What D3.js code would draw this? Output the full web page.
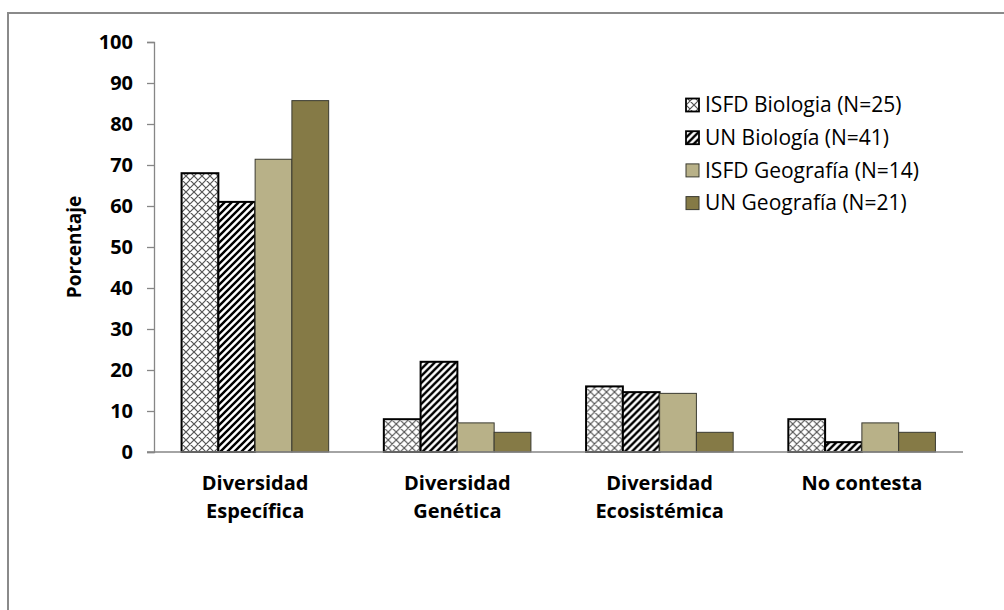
<!DOCTYPE html>
<html>
<head>
<meta charset="utf-8">
<script src="https://cdn.jsdelivr.net/npm/d3@7"></script>
<style>
  html, body { margin: 0; padding: 0; background: #fff; }
  svg { display: block; }
  text { font-family: "Open Sans", "Noto Sans", sans-serif; fill: #000; }
</style>
</head>
<body>
<script>
// ---- data ----
const categories = ["Diversidad Específica", "Diversidad Genética", "Diversidad Ecosistémica", "No contesta"];
const categoryLines = [["Diversidad", "Específica"], ["Diversidad", "Genética"], ["Diversidad", "Ecosistémica"], ["No contesta"]];
const seriesNames = ["ISFD Biologia (N=25)", "UN Biología (N=41)", "ISFD Geografía (N=14)", "UN Geografía (N=21)"];
const isfdBiologia = [68, 8, 16, 8];
const unBiologia = [61, 22, 14.6, 2.4];
const isfdGeografia = [71.4, 7.1, 14.3, 7.1];
const unGeografia = [85.7, 4.8, 4.8, 4.8];
const yTicks = [0, 10, 20, 30, 40, 50, 60, 70, 80, 90, 100];
const yTitle = "Porcentaje";

const seriesValues = [isfdBiologia, unBiologia, isfdGeografia, unGeografia];

// ---- layout ----
const W = 1004, H = 610;
const plot = { left: 154, right: 963, top: 42, bottom: 452 };

const svg = d3.select("body").append("svg").attr("width", W).attr("height", H);
const defs = svg.append("defs");

// patterns
const cross = defs.append("pattern").attr("id", "cross")
  .attr("patternUnits", "userSpaceOnUse").attr("width", 8).attr("height", 8);
cross.append("rect").attr("width", 8).attr("height", 8).attr("fill", "#fff");
cross.append("path").attr("d", "M0,0 L8,8 M8,0 L0,8 M-1,7 L1,9 M7,-1 L9,1 M-1,1 L1,-1 M7,9 L9,7")
  .attr("stroke", "#555").attr("stroke-width", 1.2);

const hatch = defs.append("pattern").attr("id", "hatch")
  .attr("patternUnits", "userSpaceOnUse").attr("width", 7).attr("height", 7);
hatch.append("rect").attr("width", 7).attr("height", 7).attr("fill", "#fff");
hatch.append("path").attr("d", "M-2,9 L9,-2 M-2,2 L2,-2 M5,9 L9,5")
  .attr("stroke", "#000").attr("stroke-width", 2.4);

const fills = ["url(#cross)", "url(#hatch)", "#b8b188", "#857a46"];
const strokes = ["#000", "#000", "#3a3a30", "#3a3a30"];
const strokeW = [2, 2, 1, 1];

// outer border
svg.append("rect").attr("x", 8).attr("y", 13).attr("width", 1100).attr("height", 700)
  .attr("fill", "none").attr("stroke", "#8a8a8a").attr("stroke-width", 2);

// scales
const x0 = d3.scaleBand().domain(categories).range([plot.left, plot.right]).padding(0);
const x1 = d3.scaleBand().domain(d3.range(seriesNames.length)).range([0, x0.bandwidth()])
  .paddingInner(0).paddingOuter(0.75);
const y = d3.scaleLinear().domain([0, 100]).range([plot.bottom, plot.top]);

// y axis
const yAxis = d3.axisLeft(y).tickValues(yTicks).tickSize(7).tickPadding(14).tickFormat(d3.format("d"));
const gy = svg.append("g").attr("transform", `translate(${plot.left},0)`).call(yAxis);
gy.select(".domain").attr("stroke", "#868686").attr("stroke-width", 1.3);
gy.selectAll(".tick line").attr("stroke", "#868686").attr("stroke-width", 1.3);
gy.selectAll(".tick text").attr("font-size", 20).attr("font-weight", "bold")
  .attr("font-family", "'Open Sans', sans-serif").attr("fill", "#000");

// bars
const groups = svg.append("g").selectAll("g").data(categories).join("g")
  .attr("transform", d => `translate(${x0(d)},0)`);
groups.selectAll("rect").data((c, ci) => seriesValues.map((vals, si) => ({ si, v: vals[ci] })))
  .join("rect")
  .attr("x", d => x1(d.si))
  .attr("y", d => y(d.v))
  .attr("width", x1.bandwidth())
  .attr("height", d => y(0) - y(d.v))
  .attr("fill", d => fills[d.si])
  .attr("stroke", d => strokes[d.si])
  .attr("stroke-width", d => strokeW[d.si]);

// x axis line
svg.append("line").attr("x1", plot.left - 7).attr("x2", plot.right)
  .attr("y1", y(0)).attr("y2", y(0)).attr("stroke", "#868686").attr("stroke-width", 1.3);

// x labels
const xl = svg.append("g").selectAll("text").data(categories).join("text")
  .attr("x", d => x0(d) + x0.bandwidth() / 2)
  .attr("y", 490)
  .attr("text-anchor", "middle")
  .attr("font-size", 20).attr("font-weight", "bold");
xl.selectAll("tspan").data((d, i) => categoryLines[i]).join("tspan")
  .attr("x", function () { return d3.select(this.parentNode).attr("x"); })
  .attr("dy", (d, i) => i === 0 ? 0 : 28)
  .text(d => d);

// y title
svg.append("text").attr("transform", "translate(81,247) rotate(-90)")
  .attr("text-anchor", "middle").attr("font-size", 19).attr("font-weight", "bold")
  .text(yTitle);

// legend
const lg = svg.append("g").selectAll("g").data(seriesNames).join("g")
  .attr("transform", (d, i) => `translate(686,${105 + i * 32.7})`);
lg.append("rect").attr("x", 0).attr("y", -6.5).attr("width", 13).attr("height", 13)
  .attr("fill", (d, i) => fills[i]).attr("stroke", (d, i) => strokes[i])
  .attr("stroke-width", (d, i) => i < 2 ? 1.8 : 1);
lg.append("text").attr("x", 19).attr("y", 0).attr("dy", "0.35em")
  .attr("font-size", 21).text(d => d);
</script>
</body>
</html>
